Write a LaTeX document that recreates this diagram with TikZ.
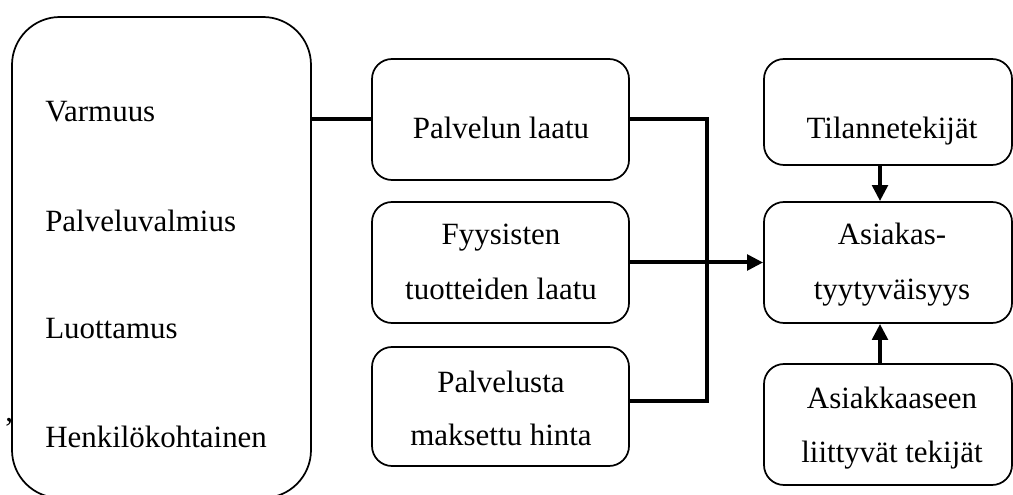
\documentclass[tikz,border=0pt]{standalone}
\usepackage{fontspec}
\setmainfont{Liberation Serif}
\usetikzlibrary{arrows.meta,calc}
\begin{document}
\begin{tikzpicture}[x=0.75pt,y=-0.75pt,
  box/.style={draw, line width=1.3pt, rounded corners=15pt, inner sep=0pt},
  midbox/.style={box, minimum width=192.75pt, minimum height=90.75pt},
  rightbox/.style={box, minimum width=186pt, minimum height=90.75pt},
  txt/.style={font=\fontsize{23.2}{27}\selectfont, inner sep=0pt, anchor=base},
  conn/.style={line width=3pt},
  arr/.style={conn, -{Triangle[length=12pt,width=11.5pt]}}]
\useasboundingbox (0,0) rectangle (1013,495);
% boxes
\node[box, rounded corners=36pt, minimum width=224.25pt, minimum height=360.75pt] (L) at (161.5,257.5) {};
\node[midbox] (PL) at (500.5,119.5) {};
\node[midbox] (FY) at (500.5,262.5) {};
\node[midbox, minimum height=89.25pt] (PH) at (500.5,406.5) {};
\node[rightbox, minimum height=79.5pt] (T) at (888,112) {};
\node[rightbox] (A) at (888,262.5) {};
\node[rightbox] (AK) at (888,424.5) {};
% texts
\node[txt, anchor=base west] (t1) at (45,122) {Varmuus};
\node[txt, anchor=base west] (t2) at (45,232) {Palveluvalmius};
\node[txt, anchor=base west] (t3) at (45,338) {Luottamus};
\node[txt, anchor=base west] (t4) at (45,447) {Henkilökohtainen};
\node[txt, anchor=base west] (cm) at (5,421) {,};
\node[txt] (tPL) at (501,139) {Palvelun laatu};
\node[txt] (tFY1) at (501,245) {Fyysisten};
\node[txt] (tFY2) at (501,299) {tuotteiden laatu};
\node[txt] (tPH1) at (501,392) {Palvelusta};
\node[txt] (tPH2) at (501,445) {maksettu hinta};
\node[txt] (tT) at (892,139) {Tilannetekijät};
\node[txt] (tA1) at (892,245) {Asiakas-};
\node[txt] (tA2) at (892,299) {tyytyväisyys};
\node[txt] (tAK1) at (892,408) {Asiakkaaseen};
\node[txt] (tAK2) at (892,462) {liittyvät tekijät};
% connectors
\coordinate (J) at (707,0);
\coordinate (PHin) at ([yshift=4pt]PH.east);
\draw[conn] (L.east |- PL.west) -- (PL.west);
\draw[conn] (PL.east) -- (PL.east -| J) -- (PHin -| J) -- (PHin);
\draw[arr] (FY.east) -- (A.west);
\draw[arr] ([xshift=-6pt]T.south) -- ([xshift=-6pt]A.north);
\draw[arr] ([xshift=-6pt]AK.north) -- ([xshift=-6pt]A.south);
\end{tikzpicture}
\end{document}
